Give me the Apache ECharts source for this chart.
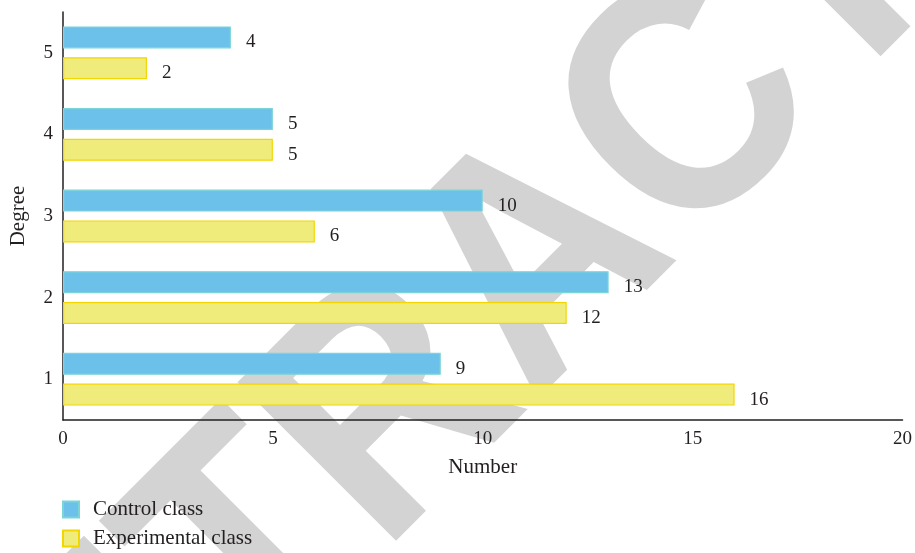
<!DOCTYPE html>
<html>
<head>
<meta charset="utf-8">
<script src="https://cdn.jsdelivr.net/npm/echarts@6/dist/echarts.min.js"></script>
<style>
  html, body { margin: 0; padding: 0; background: #fff; }
  #chart { width: 915px; height: 553px; }
</style>
</head>
<body>
<div id="chart"></div>
<script>
// Degree categories (bottom to top) and class counts
const degrees = ['1', '2', '3', '4', '5'];
const controlClass = [9, 13, 10, 5, 4];
const experimentalClass = [16, 12, 6, 5, 2];
const seriesNames = ['Control class', 'Experimental class'];

const serif = '"Liberation Serif", "DejaVu Serif", serif';
const ink = '#231f20';
const numSize = 19;
const textSize = 21;

// Diagonal "RETRACTED" stamp behind the plot: letters sit on a 45-degree
// baseline (x + y = stampBase), each centred at distance s along it.
const stampLetters = ['R', 'E', 'T', 'R', 'A', 'C', 'T', 'E', 'D'];
const stampOffsets = [-616, -400, -212, -16, 196, 408, 604, 792, 996];
const stampBase = 948;
const stampFont = 326;
const stampSqueeze = 0.9;

function stampGraphics() {
  const lift = 0.3 * stampFont * Math.SQRT1_2;
  return stampLetters.map(function (ch, i) {
    const s = stampOffsets[i] * Math.SQRT2;
    return {
      type: 'text',
      x: (stampBase + s) / 2 - lift,
      y: (stampBase - s) / 2 - lift,
      rotation: Math.PI / 4,
      scaleX: stampSqueeze,
      z: -100,
      silent: true,
      style: {
        text: ch,
        font: 'bold ' + stampFont + 'px "Liberation Sans", Arial, sans-serif',
        fill: '#d3d3d3',
        textAlign: 'center',
        textVerticalAlign: 'middle'
      }
    };
  });
}

const chart = echarts.init(document.getElementById('chart'));

const labelStyle = {
  show: true,
  position: 'right',
  distance: 15,
  offset: [0, 5],
  fontFamily: serif,
  fontSize: numSize,
  color: ink
};

chart.setOption({
  backgroundColor: '#ffffff',
  animation: false,
  graphic: stampGraphics(),
  grid: { left: 62, right: 12, top: 12, bottom: 133, containLabel: false },
  legend: {
    data: seriesNames,
    orient: 'vertical',
    left: 62,
    top: 499,
    height: 54,
    padding: 0,
    itemWidth: 16,
    itemHeight: 16,
    itemGap: 8,
    icon: 'rect',
    textStyle: {
      fontFamily: serif, fontSize: textSize, color: ink,
      lineHeight: 16, padding: [0, 0, 0, 9]
    }
  },
  xAxis: {
    type: 'value',
    min: 0,
    max: 20,
    interval: 5,
    name: 'Number',
    nameLocation: 'middle',
    nameGap: 37,
    nameTextStyle: { fontFamily: serif, fontSize: textSize, color: ink },
    axisLine: { show: true, lineStyle: { color: '#231f20', width: 1.5 } },
    axisTick: { show: false },
    splitLine: { show: false },
    axisLabel: { fontFamily: serif, fontSize: numSize, color: ink, margin: 10 }
  },
  yAxis: {
    type: 'category',
    data: degrees,
    name: 'Degree',
    nameLocation: 'middle',
    nameGap: 34,
    nameRotate: 90,
    nameTextStyle: { fontFamily: serif, fontSize: textSize, color: ink },
    axisLine: { show: true, lineStyle: { color: '#231f20', width: 1.5 } },
    axisTick: { show: false },
    axisLabel: { fontFamily: serif, fontSize: numSize, color: ink, margin: 10 }
  },
  series: [
    {
      name: 'Control class',
      type: 'bar',
      data: controlClass,
      barWidth: 22,
      barGap: '40%',
      itemStyle: { color: '#6cc1ea', borderColor: '#7ad4d8', borderWidth: 1.2 },
      label: labelStyle
    },
    {
      name: 'Experimental class',
      type: 'bar',
      data: experimentalClass,
      barWidth: 22,
      barGap: '40%',
      itemStyle: { color: '#f0ec7b', borderColor: '#f2d600', borderWidth: 1.2 },
      label: labelStyle
    }
  ]
});
</script>
</body>
</html>
